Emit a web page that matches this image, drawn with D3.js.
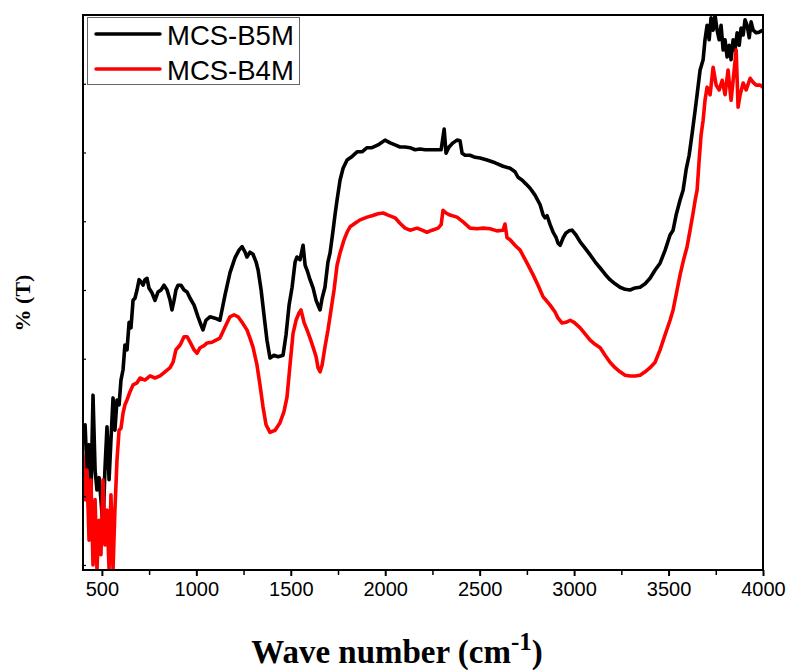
<!DOCTYPE html>
<html>
<head>
<meta charset="utf-8">
<script src="https://cdn.jsdelivr.net/npm/d3@7"></script>
<style>
html,body{margin:0;padding:0;background:#fff;}
svg{display:block;}
</style>
</head>
<body>
<svg id="chart" width="791" height="670"></svg>
<script>
// ---- data (wavenumber cm-1, %T in arbitrary units) ----
const seriesNames = ["MCS-B5M", "MCS-B4M"];
const seriesColors = ["#000000", "#ff0000"];
const xTicks = [500, 1000, 1500, 2000, 2500, 3000, 3500, 4000];
const xMinorTicks = [750, 1250, 1750, 2250, 2750, 3250, 3750];
const yTicks = [20, 30, 40, 50, 60, 70, 80, 90];

const b5mWave = [400,411,421,432,442,453,464,474,485,495,506,516,527,538,548,559,569,580,591,601,612,622,633,644,654,665,675,686,697,707,718,728,739,749,765,781,797,813,829,845,861,871,882,892,903,919,935,951,967,988,1009,1025,1035,1051,1072,1099,1125,1152,1178,1205,1226,1242,1258,1268,1284,1300,1316,1327,1343,1358,1374,1390,1411,1433,1459,1475,1491,1507,1523,1533,1549,1565,1576,1586,1602,1618,1634,1644,1655,1666,1681,1697,1708,1724,1734,1745,1761,1777,1798,1819,1851,1877,1904,1930,1962,1999,2026,2052,2078,2105,2131,2158,2184,2211,2237,2274,2296,2312,2322,2338,2359,2380,2396,2407,2423,2449,2476,2502,2539,2582,2624,2661,2687,2703,2724,2746,2767,2793,2820,2836,2846,2857,2873,2889,2905,2915,2926,2942,2957,2973,2989,3010,3032,3058,3085,3111,3138,3164,3190,3217,3243,3270,3296,3323,3349,3376,3402,3429,3455,3482,3508,3524,3540,3561,3577,3593,3609,3625,3641,3651,3667,3683,3693,3704,3715,3725,3736,3746,3757,3768,3778,3789,3799,3810,3821,3831,3842,3852,3863,3874,3884,3895,3905,3916,3927,3937,3948,3964,3979,4000];
const b5mT = [38.2,40.4,33.8,37.5,29.9,44.7,33.8,30.9,32.7,29.5,25.4,33.8,40.1,32.4,38.2,44.3,39.6,44.0,43.3,46.9,48.4,52.0,51.3,55.3,54.5,58.5,58.8,60.0,61.5,61.2,60.7,61.5,61.7,60.3,59.6,58.5,59.7,60.0,60.7,60.0,58.5,57.1,58.5,60.0,60.7,60.7,60.0,59.7,58.8,57.8,56.1,54.9,54.2,55.6,56.1,55.9,55.6,59.3,62.5,64.7,65.8,66.3,65.5,64.8,65.5,65.2,64.1,62.9,60.0,56.4,52.7,50.1,50.5,50.3,50.5,53.5,57.8,60.4,64.1,64.8,64.4,66.5,63.6,62.9,61.5,60.3,58.5,57.8,57.1,58.8,60.4,64.1,65.4,68.7,70.9,73.1,76.0,77.7,78.9,79.3,80.1,80.1,80.7,80.7,81.1,81.8,81.4,81.1,80.8,80.8,80.7,80.4,80.5,80.4,80.4,80.4,80.4,83.4,79.9,80.8,81.4,81.8,81.7,79.9,79.6,79.6,79.3,79.2,78.9,78.5,78.0,77.7,77.2,76.4,76.0,75.4,74.8,73.8,72.4,70.9,70.5,70.8,69.5,68.4,67.6,66.8,66.5,67.6,68.3,68.6,68.7,68.0,67.0,66.1,65.1,64.1,63.2,62.3,61.5,60.9,60.4,60.1,60.0,60.3,60.4,60.9,61.7,62.9,63.9,65.8,68.0,68.7,70.9,73.1,74.5,77.5,79.6,82.8,86.2,88.4,92.0,93.5,96.4,98.5,96.4,99.6,97.8,100,97.8,96.4,98.5,94.9,96.4,93.9,95.6,93.5,96.4,94.9,97.4,95.6,98.1,97.1,99.3,98.5,96.7,99.0,97.8,97.4,97.5,97.8];

const b4mWave = [400,411,421,432,442,453,464,474,485,495,506,516,527,538,548,559,569,580,591,601,612,622,633,649,665,686,702,728,755,781,808,834,861,877,892,914,935,951,967,988,1004,1020,1041,1057,1083,1104,1125,1152,1178,1200,1221,1242,1268,1284,1300,1321,1337,1353,1369,1390,1417,1443,1464,1480,1496,1512,1528,1544,1554,1570,1586,1602,1618,1634,1644,1655,1666,1681,1697,1713,1729,1745,1761,1782,1798,1814,1840,1867,1904,1930,1962,1989,2015,2052,2078,2105,2131,2169,2195,2221,2248,2280,2296,2306,2322,2343,2380,2412,2449,2486,2518,2555,2592,2624,2634,2645,2661,2687,2714,2751,2783,2809,2836,2852,2873,2899,2915,2936,2957,2979,3000,3032,3058,3085,3111,3138,3164,3190,3217,3243,3270,3296,3323,3349,3376,3402,3429,3455,3482,3508,3524,3545,3561,3577,3598,3614,3630,3641,3651,3662,3672,3683,3693,3704,3720,3736,3752,3768,3784,3799,3815,3831,3842,3858,3868,3879,3895,3911,3932,3948,3964,3985,4000];
const b4mT = [36.0,29.5,33.8,23.6,32.4,20.0,29.5,19.3,26.5,21.5,32.4,22.9,28.0,19.3,30.2,19.3,28.0,35.3,39.6,39.9,42.1,43.3,44.0,45.2,46.2,46.5,47.2,46.9,47.5,47.2,47.5,48.1,48.7,49.5,51.3,52.0,53.2,53.2,52.4,51.3,50.8,51.6,51.9,52.3,52.4,52.7,53.0,54.6,56.1,56.4,56.1,55.3,54.2,53.0,51.7,49.1,46.2,43.0,40.4,39.3,39.6,40.7,42.3,44.4,49.1,53.7,55.6,56.7,57.1,55.3,54.2,53.0,51.7,50.3,48.7,48.1,49.1,51.7,54.2,57.1,60.0,63.6,65.4,67.3,68.4,69.2,69.7,70.2,70.6,70.8,71.1,71.2,70.9,70.5,69.7,69.0,68.7,69.0,68.7,68.4,68.7,69.0,69.5,71.6,71.2,70.9,70.6,69.9,69.0,68.9,69.0,68.9,68.6,68.7,69.6,67.6,67.3,66.5,65.8,63.9,62.2,60.7,59.0,58.5,57.8,56.8,55.9,55.2,55.3,55.6,55.3,54.5,53.6,52.7,52.1,51.6,50.5,49.5,48.7,48.1,47.6,47.5,47.5,47.6,48.1,48.7,49.5,51.3,53.5,55.6,57.1,60.0,62.2,64.1,66.3,68.7,71.2,73.1,74.5,78.9,82.5,84.7,87.6,89.5,88.4,92.4,89.8,89.1,90.5,88.4,92.0,87.6,90.5,94.9,86.6,88.4,90.1,89.1,90.8,90.2,89.8,89.8,89.5];

// ---- layout ----
const margin = {left: 83, right: 28, top: 15, bottom: 100};
const W = 791, H = 670;
const plotW = W - margin.left - margin.right; // 680
const plotH = H - margin.top - margin.bottom; // 555

const svg = d3.select("#chart");
const g = svg.append("g").attr("transform", `translate(${margin.left},${margin.top})`);

const x = d3.scaleLinear().domain([400, 4000]).range([0, plotW]);
const y = d3.scaleLinear().domain([19.27, 100]).range([plotH, 0]);

svg.append("defs").append("clipPath").attr("id", "clip")
  .append("rect").attr("x", 0).attr("y", 0).attr("width", plotW).attr("height", plotH);

const series = [
  {name: seriesNames[0], color: seriesColors[0], data: b5mWave.map((w, i) => [w, b5mT[i]])},
  {name: seriesNames[1], color: seriesColors[1], data: b4mWave.map((w, i) => [w, b4mT[i]])}
];

const line = d3.line().x(d => x(d[0])).y(d => y(d[1]));

const lines = g.append("g").attr("clip-path", "url(#clip)");
series.forEach(s => {
  lines.append("path")
    .datum(s.data)
    .attr("fill", "none")
    .attr("stroke", s.color)
    .attr("stroke-width", 3.6)
    .attr("stroke-linejoin", "round")
    .attr("stroke-linecap", "round")
    .attr("d", line);
});

// frame
g.append("rect").attr("x", 0).attr("y", 0).attr("width", plotW).attr("height", plotH)
  .attr("fill", "none").attr("stroke", "#000").attr("stroke-width", 2);

// x axis major
const xAxis = d3.axisBottom(x).tickValues(xTicks).tickSize(6).tickPadding(6).tickFormat(d3.format("d"));
const xg = g.append("g").attr("transform", `translate(0,${plotH})`).call(xAxis);
xg.select(".domain").remove();
xg.selectAll(".tick line").attr("stroke", "#000").attr("stroke-width", 2);
xg.selectAll(".tick text")
  .attr("font-family", "'Liberation Sans', Arial, sans-serif")
  .attr("font-size", 20)
  .attr("fill", "#000")
  .attr("dy", "0.71em");

// x axis minor
const xm = d3.axisBottom(x).tickValues(xMinorTicks).tickSize(5).tickFormat("");
const xmg = g.append("g").attr("transform", `translate(0,${plotH})`).call(xm);
xmg.select(".domain").remove();
xmg.selectAll(".tick line").attr("stroke", "#000").attr("stroke-width", 1.5);

// y axis ticks (inward, no labels)
const yAxis = d3.axisRight(y).tickValues(yTicks).tickSize(3).tickFormat("");
const yg = g.append("g").call(yAxis);
yg.select(".domain").remove();
yg.selectAll(".tick line").attr("stroke", "#000").attr("stroke-width", 1.2);

// axis titles
const xt = svg.append("text")
  .attr("x", 397).attr("y", 663)
  .attr("text-anchor", "middle")
  .attr("font-family", "'Liberation Serif', 'Times New Roman', serif")
  .attr("font-weight", "bold")
  .attr("font-size", 33)
  .attr("fill", "#000");
xt.append("tspan").text("Wave number (cm");
xt.append("tspan").attr("dy", -13).attr("font-size", 25).text("-1");
xt.append("tspan").attr("dy", 13).text(")");

svg.append("text")
  .attr("transform", "translate(30,303) rotate(-90)")
  .attr("text-anchor", "middle")
  .attr("font-family", "'Liberation Serif', 'Times New Roman', serif")
  .attr("font-weight", "bold")
  .attr("font-size", 22)
  .attr("fill", "#000")
  .text("% (T)");

// legend
const lg = svg.append("g");
lg.append("rect").attr("x", 87.5).attr("y", 17.5).attr("width", 212).attr("height", 67)
  .attr("fill", "#fff").attr("stroke", "#666").attr("stroke-width", 1);
series.forEach((s, i) => {
  const ly = 34 + i * 35;
  lg.append("line").attr("x1", 96).attr("x2", 160).attr("y1", ly).attr("y2", ly)
    .attr("stroke", s.color).attr("stroke-width", 3.5).attr("stroke-linecap", "round");
  lg.append("text").attr("x", 167).attr("y", ly + 11)
    .attr("font-family", "'Liberation Sans', Arial, sans-serif")
    .attr("font-size", 27.5)
    .attr("fill", "#000")
    .text(s.name);
});
</script>
</body>
</html>
